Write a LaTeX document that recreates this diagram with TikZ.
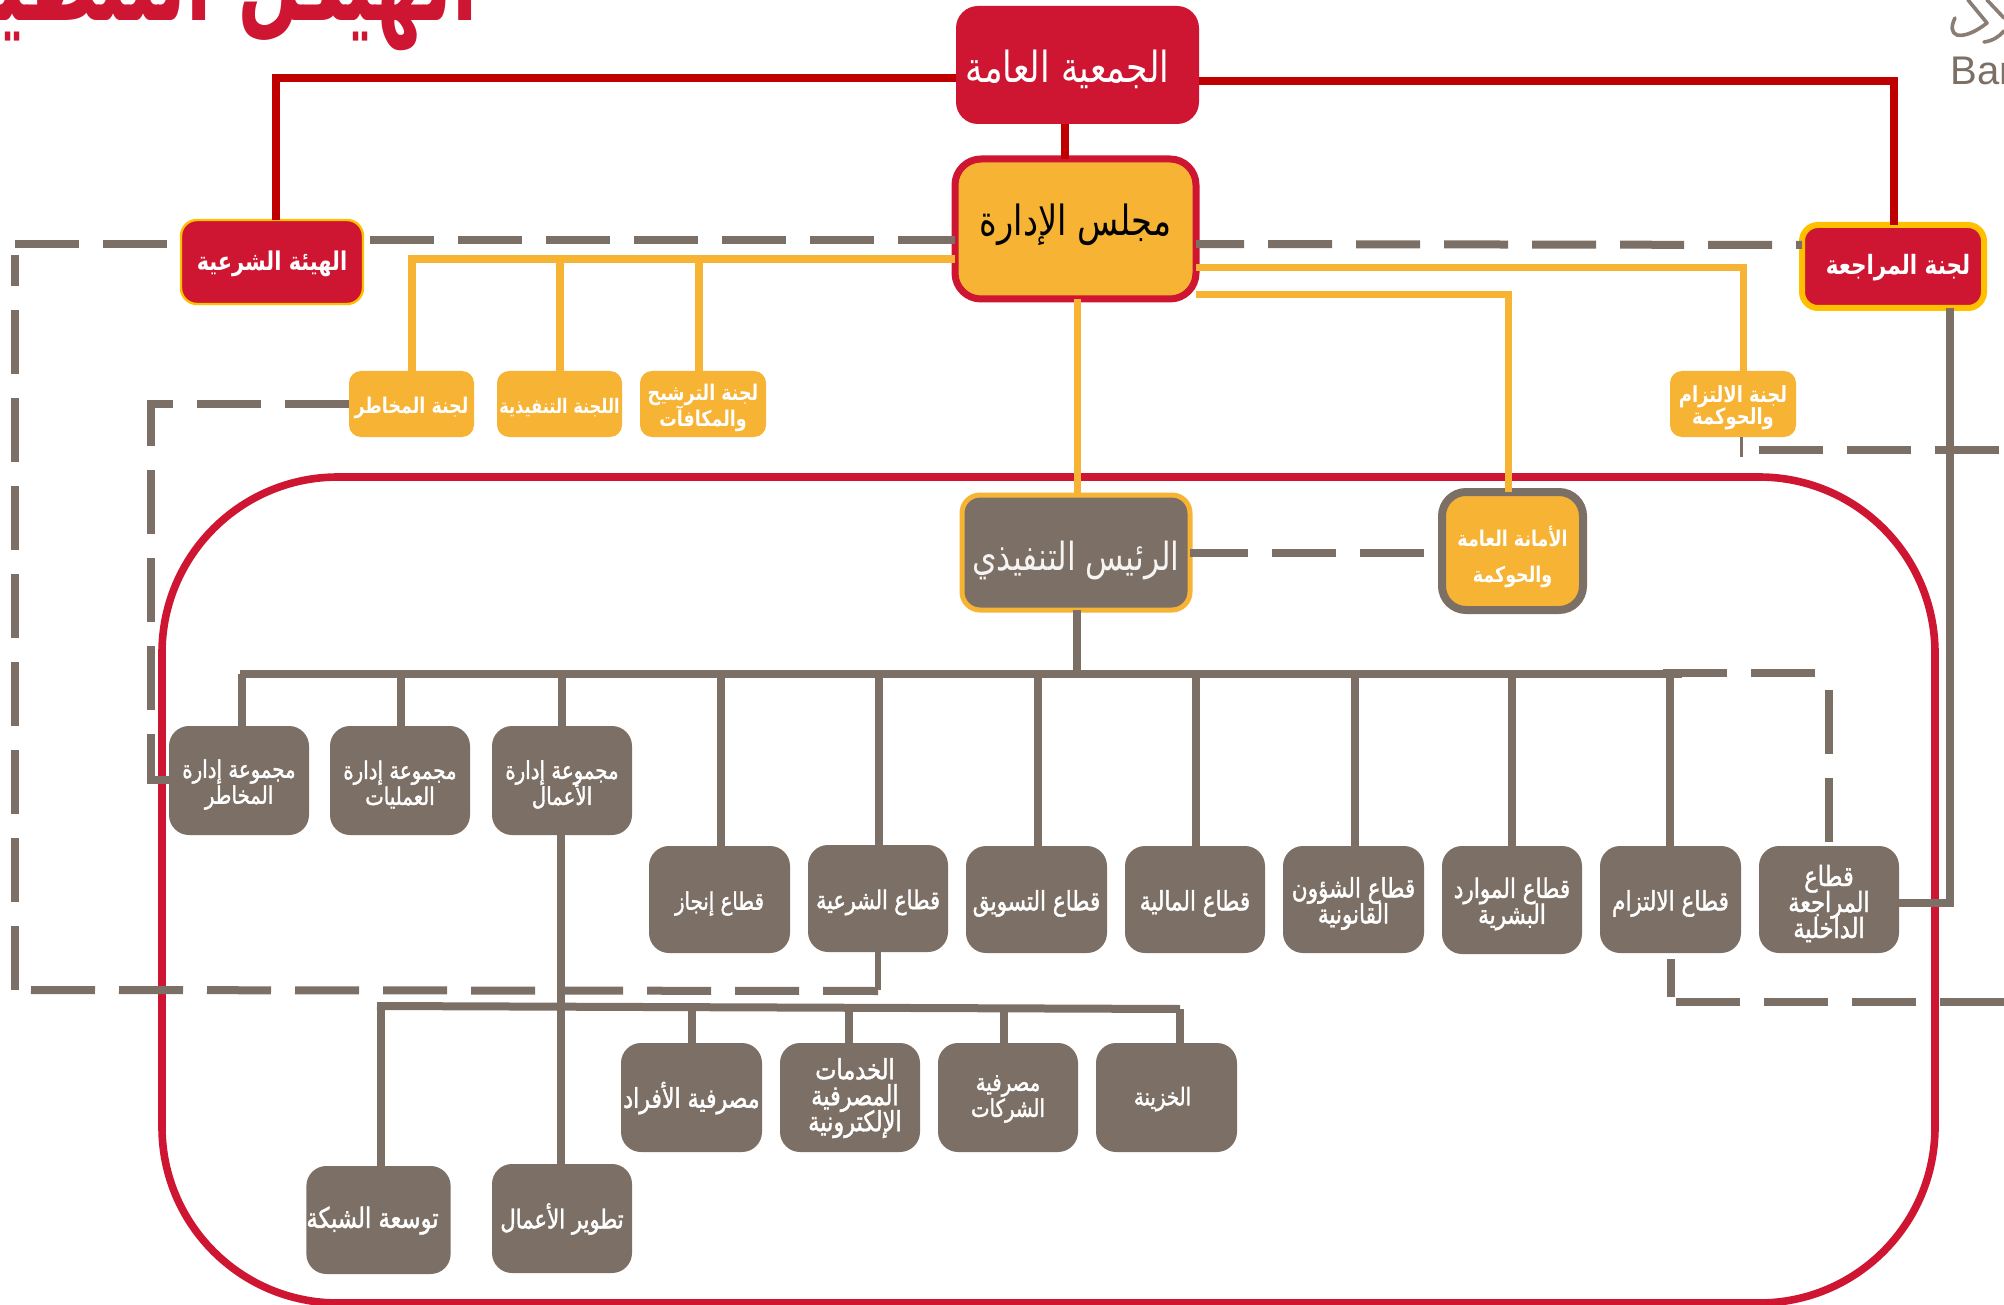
\documentclass[tikz,border=0pt]{standalone}
\usepackage{fontspec}
\TeXXeTstate=1
\newfontfamily\arfont[Script=Arabic,FakeStretch=0.9]{DejaVu Sans Condensed}
\newfontfamily\arsemi[Script=Arabic,FakeStretch=0.9,FakeBold=1.5]{DejaVu Sans Condensed}
\newfontfamily\artitle[Script=Arabic,FakeStretch=0.66]{DejaVu Sans Condensed}
\setmainfont{Liberation Sans}
\definecolor{cred}{HTML}{CE1632}
\definecolor{dred}{HTML}{C00000}
\definecolor{corange}{HTML}{F6B334}
\definecolor{cbrown}{HTML}{7C6F65}
\definecolor{cyellow}{HTML}{FFC000}
\setlength{\lineskiplimit}{-30pt}
\newlength\rdrop
\setlength\rdrop{2pt}
\newcommand\R[1]{\raisebox{-\rdrop}[\height][\depth]{\beginR #1\endR}}
\newcommand\fs[2]{\arsemi\fontsize{#1}{#2}\selectfont}
\newcommand\fr[2]{\arfont\fontsize{#1}{#2}\selectfont}
\newcommand\fb[2]{\arfont\bfseries\fontsize{#1}{#2}\selectfont}
% [style]{name}{x1}{y1}{x2}{y2}{text}
\newcommand\bx[7][]{%
  \pgfmathsetmacro\cxx{(#3+#5)/2}\pgfmathsetmacro\cyy{(#4+#6)/2}%
  \pgfmathsetmacro\bww{(#5-#3)*0.5}\pgfmathsetmacro\bhh{(#6-#4)*0.5}%
  \node[#1,minimum width=\bww pt,minimum height=\bhh pt] (#2) at (\cxx,\cyy) {#7};}
\tikzset{
  base/.style={inner sep=0pt,outer sep=0pt,align=center,text=white,rounded corners=10pt,font=\fs{13.3}{13}},
  brownbox/.style={base,fill=cbrown},
  orangebox/.style={base,fill=corange,rounded corners=6pt},
  redbox/.style={base,fill=cred},
  redl/.style={draw=dred,line width=4pt},
  orl/.style={draw=corange,line width=4pt},
  brl/.style={draw=cbrown,line width=3.8pt},
  dashl/.style={draw=cbrown,line width=4pt,dash pattern=on 32pt off 12pt},
}
\begin{document}
\begin{tikzpicture}[x=0.5pt,y=-0.5pt]
\useasboundingbox (0,0) rectangle (2004,1305);
\begin{scope}
\clip (0,0) rectangle (2004,1305);
% title and logo
\node[anchor=base east,inner sep=0pt,text=cred] (title) at (478,21) {\artitle\bfseries\fontsize{62}{70}\selectfont\beginR الهيكل التنظيمي\endR};
\node[anchor=base west,inner sep=0pt,text=cbrown] (logo) at (1950,85) {\fontsize{20}{22}\selectfont Ban};
\draw[cbrown!90!white,line width=1.8pt,line cap=round,line join=round] (1955,18) .. controls (1951,26) and (1951,33) .. (1957,35) .. controls (1966,37) and (1978,30) .. (1987,23) -- (1968,0);
\draw[cbrown!90!white,line width=1.8pt,line cap=round] (1984,42) .. controls (1992,41) and (1999,37) .. (2004,31);
\draw[cbrown!90!white,line width=1.8pt,line cap=round] (1987,0) -- (2004,18);
% outer frame
\bx[draw=cred,line width=3.8pt,rounded corners=88pt,inner sep=0pt]{frame}{162}{477}{1935}{1303}{}
% top
\bx[redbox,font=\fr{21.4}{20},rounded corners=11pt]{ga}{956}{6}{1199}{124}{\R{الجمعية العامة}\hspace{10pt}}
\bx[base,fill=corange,draw=cred,line width=3.5pt,text=black,font={\fr{20.8}{20}\setlength\rdrop{-2pt}},rounded corners=13pt]{board}{955}{159}{1196}{299}{\R{مجلس الإدارة}}
\bx[redbox,draw=cyellow,line width=1.2pt,font={\fb{12.9}{14}\setlength\rdrop{0.8pt}},rounded corners=8pt]{shariah}{181}{220}{363}{304}{\R{الهيئة الشرعية}}
\bx[redbox,draw=cyellow,line width=3pt,font={\fb{13.3}{14}\setlength\rdrop{0.8pt}},rounded corners=8pt]{audit}{1802}{225}{1984}{308}{\hspace{5pt}\R{لجنة المراجعة}}
% committees
\bx[orangebox,font=\fb{10.8}{12.8}]{risk}{349}{371}{474}{437}{\R{لجنة المخاطر}}
\bx[orangebox,font=\fb{10}{12}]{exec}{497}{371}{622}{437}{\R{اللجنة التنفيذية}}
\bx[orangebox,font=\fb{10.8}{12.8}]{nom}{640}{371}{766}{437}{\R{لجنة الترشيح}\\\R{والمكافآت}}
\bx[orangebox,font=\fb{11.1}{11}]{comp}{1670}{371}{1796}{437}{\R{لجنة الالتزام}\\\R{والحوكمة}}
\bx[base,fill=cbrown,draw=corange,line width=2.5pt,text=white!92!cbrown,font={\fr{19.4}{18}\setlength\rdrop{3.8pt}},rounded corners=9pt]{ceo}{962}{495}{1190}{610}{\R{الرئيس التنفيذي}}
\bx[base,fill=corange,draw=cbrown,line width=4pt,font={\fb{10.8}{18}\setlength\rdrop{3pt}},rounded corners=12pt]{sec}{1442}{492}{1583}{610}{\R{الأمانة العامة}\\\R{والحوكمة}}
% groups
\bx[brownbox,font=\fs{12.2}{13}]{g1}{169}{726}{309}{835}{\R{مجموعة إدارة}\\\R{المخاطر}}
\bx[brownbox,font=\fs{12.2}{13}]{g2}{330}{726}{470}{835}{\R{مجموعة إدارة}\\\R{العمليات}}
\bx[brownbox,font=\fs{12.2}{13}]{g3}{492}{726}{632}{835}{\R{مجموعة إدارة}\\\R{الأعمال}}
% sectors
\bx[brownbox,font=\fs{12.2}{13}]{s1}{649}{846}{790}{953}{\R{قطاع إنجاز}}
\bx[brownbox,font=\fs{12.8}{13}]{s2}{808}{845}{948}{952}{\R{قطاع الشرعية}}
\bx[brownbox]{s3}{966}{846}{1107}{953}{\R{قطاع التسويق}}
\bx[brownbox]{s4}{1125}{846}{1265}{953}{\R{قطاع المالية}}
\bx[brownbox]{s5}{1283}{846}{1424}{953}{\R{قطاع الشؤون}\\\R{القانونية}}
\bx[brownbox]{s6}{1442}{846}{1582}{954}{\R{قطاع الموارد}\\\R{البشرية}}
\bx[brownbox]{s7}{1600}{846}{1741}{953}{\R{قطاع الالتزام}}
\bx[brownbox,font=\fs{13.9}{13}]{s8}{1759}{846}{1899}{953}{\R{قطاع}\\\R{المراجعة}\\\R{الداخلية}}
% business group units
\bx[brownbox,font={\fs{13.6}{13}\setlength\rdrop{0.3pt}}]{u1}{621}{1043}{762}{1152}{\R{مصرفية الأفراد}}
\bx[brownbox,font={\fs{13.9}{13}\setlength\rdrop{0.3pt}}]{u2}{780}{1043}{920}{1152}{\hspace{5pt}\R{الخدمات}\\\hspace{5pt}\R{المصرفية}\\\hspace{5pt}\R{الإلكترونية}}
\bx[brownbox,font={\fs{12.2}{13}\setlength\rdrop{0.8pt}}]{u3}{938}{1043}{1078}{1152}{\R{مصرفية}\\\R{الشركات}}
\bx[brownbox,font={\fs{12.2}{13}\setlength\rdrop{0.8pt}}]{u4}{1096}{1043}{1237}{1152}{\R{الخزينة}\hspace{4pt}}
\bx[brownbox,font={\fs{14}{13}\setlength\rdrop{0.3pt}}]{u5}{308}{1166}{449}{1274}{\R{توسعة الشبكة}\hspace{6pt}}
\bx[brownbox,font={\fs{13.1}{13}\setlength\rdrop{0.3pt}}]{u6}{492}{1164}{632}{1273}{\R{تطوير الأعمال}}
% red connectors
\draw[redl] (ga.west |- 0,78) -- (276,78) -- (shariah.north -| 276,0);
\draw[redl] (ga.east |- 0,81) -- (1894,81) -- (audit.north -| 1894,0);
\draw[redl] (board.north -| 1065,0) -- (ga.south -| 1065,0);
% orange connectors
\draw[orl] (board.west |- 0,259) -- (412,259) -- (risk.north -| 412,0);
\draw[orl] (560,259) -- (exec.north -| 560,0);
\draw[orl] (699,259) -- (nom.north -| 699,0);
\draw[orl,line width=3.5pt] (board.east |- 0,268) -- (1743,268) -- (comp.north -| 1743,0);
\draw[orl,line width=3.5pt] (board.east |- 0,295) -- (1508,295) -- (sec.north -| 1508,0);
\draw[orl,line width=3.5pt] (board.south -| 1077,0) -- (ceo.north -| 1077,0);
% dashed connectors
\draw[dashl] (370,240) -- (board.west |- 0,240);
\draw[dashl,dash phase=8pt] (board.east |- 0,244) -- (audit.west |- 0,245);
\draw[dashl] (15,244) -- (shariah.west |- 0,244);
\draw[dashl,dash phase=16.5pt] (15,255) -- (15,990);
\draw[dashl] (31,990) -- (s2.south |- 0,991);
\draw[brl,line width=3pt] (s2.south -| 878,0) -- (878,990);
\draw[dashl] (risk.west) -- (151,404) -- (151,780) -- (g1.west |- 0,780);
\draw[dashl,dash phase=3pt] (ceo.east |- 0,553) -- (sec.west |- 0,553);
\draw[dashl] (1663,673) -- (1815,673);
\draw[dashl] (1829,690) -- (s8.north -| 1829,0);
\coordinate (cd) at (1741,457);
\draw[cbrown,line width=1.5pt] (comp.south -| 1741,0) -- (cd);
\draw[dashl] (1759,450) -- (2010,450);
\draw[brl] (1671,959) -- (1671,997);
\draw[dashl] (1676,1002) -- (2010,1002);
% brown connectors
\draw[brl] (ceo.south -| 1077,0) -- (1077,673);
\draw[brl] (240,674) -- (1682,674);
\foreach \xx/\tt in {242/g1,401/g2,562/g3,721/s1,879/s2,1038/s3,1196/s4,1355/s5,1512/s6,1670/s7}
  \draw[brl] (\xx,674) -- (\tt.north -| \xx,0);
\draw[brl] (audit.south -| 1950,0) -- (1950,903) -- (s8.east |- 0,903);
\draw[brl] (g3.south -| 561,0) -- (u6.north -| 561,0);
\draw[brl,line width=4pt] (377,1006) -- (1180,1009);
\draw[brl] (692,1007) -- (u1.north -| 692,0);
\draw[brl] (849,1007) -- (u2.north -| 849,0);
\draw[brl] (1004,1008) -- (u3.north -| 1004,0);
\draw[brl] (1180,1009) -- (u4.north -| 1180,0);
\draw[brl] (381,1006) -- (u5.north -| 381,0);
\end{scope}
\end{tikzpicture}
\end{document}
